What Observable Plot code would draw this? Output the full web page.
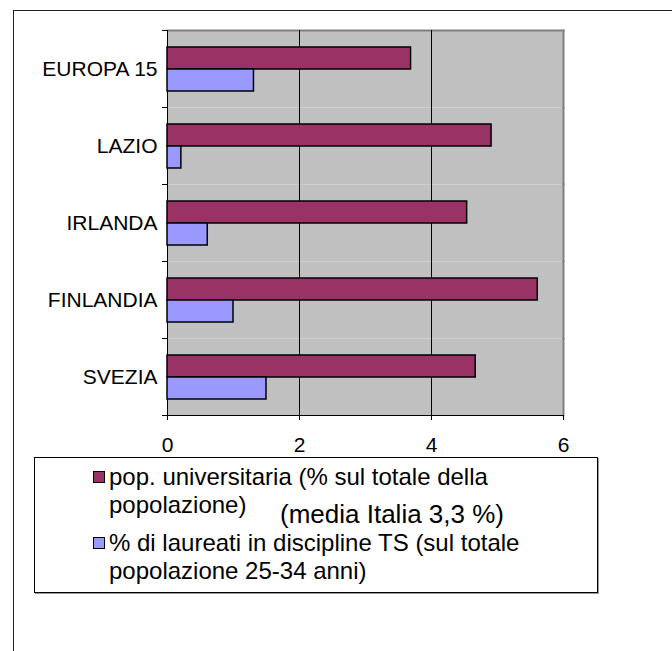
<!DOCTYPE html>
<html><head><meta charset="utf-8">
<script src="https://cdn.jsdelivr.net/npm/d3@7"></script>
<script src="https://cdn.jsdelivr.net/npm/@observablehq/plot@0.6"></script>
<style>
body{margin:0;background:#fff;font-family:"Liberation Sans",Arial,sans-serif;color:#000;}
#wrap{position:relative;width:672px;height:651px;overflow:hidden;}
#frame{position:absolute;left:13px;top:10px;width:700px;height:700px;border-left:1.5px solid #222;border-top:1.5px solid #222;}
#chart{position:absolute;left:0;top:0;}
#legend{position:absolute;left:34px;top:457px;width:564px;height:136px;border:1px solid #000;box-sizing:border-box;box-shadow:1px 1px 0 #999;background:#fff;}
.item{position:absolute;left:0;width:100%;font-size:24px;line-height:28px;}
.sw{position:absolute;left:58px;top:8px;width:10px;height:10px;border:1px solid #000;}
.lt{position:absolute;left:74px;top:0;white-space:nowrap;}
#media{position:absolute;left:280px;top:499px;font-size:26px;line-height:30px;white-space:nowrap;}
</style></head>
<body><div id="wrap"><div id="frame"></div><div id="chart"></div><div id="legend"></div><div id="media"></div></div>
<script>
const categories = ["EUROPA 15", "LAZIO", "IRLANDA", "FINLANDIA", "SVEZIA"];
const seriesNames = ["pop. universitaria (% sul totale della popolazione)", "% di laureati in discipline TS (sul totale popolazione 25-34 anni)"];
const popUniversitaria = [3.69, 4.91, 4.54, 5.61, 4.67];
const laureatiTS = [1.31, 0.21, 0.61, 1.00, 1.50];
const xTicks = [0, 2, 4, 6];
const seriesColors = ["#993366", "#9999ff"];
const legendLines = [["pop. universitaria (% sul totale della", "popolazione)"], ["% di laureati in discipline TS (sul totale", "popolazione 25-34 anni)"]];
const mediaNote = "(media Italia 3,3 %)";

const rows = [];
categories.forEach((c, i) => {
  rows.push({category: c, series: seriesNames[0], value: popUniversitaria[i]});
  rows.push({category: c, series: seriesNames[1], value: laureatiTS[i]});
});

const W = 672, H = 460, mL = 167, mR = 109, mT = 29, mB = 45;
const innerW = W - mL - mR;

const chart = Plot.plot({
  width: W, height: H, marginLeft: mL, marginRight: mR, marginTop: mT, marginBottom: mB,
  style: {fontFamily: "'Liberation Sans', Arial, sans-serif", fontSize: "21px", color: "#000", background: "transparent", overflow: "visible"},
  x: {domain: [0, 6], ticks: xTicks, label: null},
  y: {domain: seriesNames, axis: null, paddingInner: 0, paddingOuter: 0.72},
  fy: {domain: categories, padding: 0, label: null},
  color: {domain: seriesNames, range: seriesColors},
  marks: [
    Plot.frame({fill: "#c0c0c0", stroke: null}),
    Plot.frame({anchor: "right", stroke: "#808080", strokeWidth: 2}),
    Plot.frame({anchor: "top", stroke: "#808080", strokeWidth: 2, facetAnchor: "top"}),
    Plot.ruleX(xTicks.slice(0, 3), {stroke: "#000", strokeWidth: 1}),
    Plot.barX(rows, {x: "value", y: "series", fy: "category", fill: "series", stroke: "#000", strokeWidth: 1.5}),
    Plot.frame({anchor: "bottom", stroke: "#000", facetAnchor: "bottom"}),
    Plot.frame({anchor: "top", stroke: "#000", insetLeft: -5, insetRight: innerW}),
    Plot.frame({anchor: "bottom", stroke: "#000", insetLeft: -5, insetRight: innerW, facetAnchor: "bottom"}),
    Plot.axisX({ticks: xTicks, tickFormat: d => String(d), tickSize: 5, tickPadding: 17, label: null, facetAnchor: "bottom"}),
    Plot.axisFy({anchor: "left", tickSize: 0, tickPadding: 10, label: null})
  ]
});
document.getElementById("chart").appendChild(chart);

const legend = document.getElementById("legend");
const tops = [5, 71];
legendLines.forEach((lines, i) => {
  const it = document.createElement("div");
  it.className = "item";
  it.style.top = tops[i] + "px";
  const sw = document.createElement("span");
  sw.className = "sw";
  sw.style.background = seriesColors[i];
  const lt = document.createElement("span");
  lt.className = "lt";
  lt.innerHTML = lines.join("<br>");
  it.appendChild(sw); it.appendChild(lt);
  legend.appendChild(it);
});
document.getElementById("media").textContent = mediaNote;
</script></body></html>
